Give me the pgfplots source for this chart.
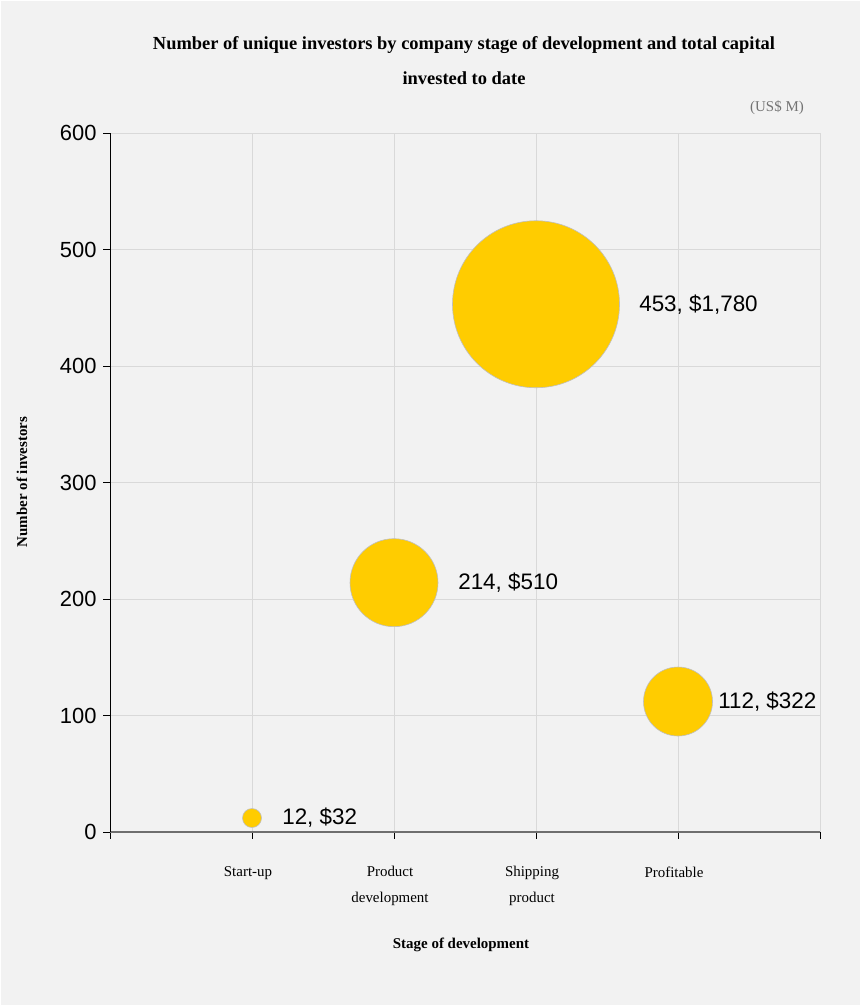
\documentclass[border=0pt]{standalone}
\usepackage{pgfplots}
\pgfplotsset{compat=1.18}
\usepackage{fontspec}
\setmainfont{Liberation Serif}
\newfontfamily\arial{Liberation Sans}
\definecolor{bg}{HTML}{F2F2F2}
\definecolor{bub}{HTML}{FFCC00}
\definecolor{gridc}{HTML}{D9D9D9}
\definecolor{xax}{HTML}{6F6F6F}

\pgfplotsset{
  bubble/.style n args={3}{only marks, mark=*, mark size=#1,
    mark options={fill=bub, draw=black!25, line width=0.6bp},
    nodes near coords={#3},
    every node near coord/.append style={anchor=west, xshift=#2, inner sep=0pt,
      font=\arial\fontsize{22.5}{26}\selectfont, text=black}},
}

\begin{document}
\begin{tikzpicture}[x=1bp,y=1bp]
\path[use as bounding box, fill=white] (0,0) rectangle (861,1006);
\fill[bg] (1.5,1.5) rectangle (859.5,1004.5);
\begin{axis}[
  at={(110bp,174bp)}, anchor=south west,
  scale only axis, width=710bp, height=699bp,
  xmin=0, xmax=5, ymin=0, ymax=600,
  axis x line=bottom, axis y line=left,
  axis line style={-},
  x axis line style={draw=xax, line width=1.8bp},
  y axis line style={draw=black, line width=0.8bp},
  xtick={0,1,2,3,4,5},
  xticklabels={,Start-up,Product\\development,Shipping\\product,Profitable,},
  ytick={0,100,200,300,400,500,600},
  tick align=outside,
  major tick length=7bp,
  tick style={draw=black, line width=0.8bp},
  xmajorgrids, ymajorgrids,
  grid style={draw=gridc, line width=0.6bp},
  /pgf/number format/assume math mode=true,
  yticklabel style={font=\arial\fontsize{22}{24}\selectfont, anchor=east, xshift=-3bp},
  xticklabel style={font=\fontsize{15}{26}\selectfont, align=center, anchor=north, yshift=-24bp, xshift=-4bp},
  clip=false,
]
% x = stage, y = number of investors; bubble radius scaled from capital (US$ M)
\addplot[bubble={9.5bp}{30bp}{12, \$32}] coordinates {(1,12)};
\addplot[bubble={44bp}{64bp}{214, \$510}] coordinates {(2,214)};
\addplot[bubble={83.5bp}{103bp}{453, \$1,780}] coordinates {(3,453)};
\addplot[bubble={34.5bp}{40bp}{112, \$322}] coordinates {(4,112)};
\end{axis}
\node[font=\bfseries\fontsize{18.5}{20}\selectfont] at (464,961) {Number of unique investors by company stage of development and total capital};
\node[font=\bfseries\fontsize{18.5}{20}\selectfont] at (464,928) {invested to date};
\node[font=\fontsize{15}{16}\selectfont, text=black!55] at (777,898) {(US\$ M)};
\node[font=\bfseries\fontsize{15}{15}\selectfont, rotate=90] at (22,524) {Number of investors};
\node[font=\bfseries\fontsize{15}{16}\selectfont] at (461,61) {Stage of development};
\end{tikzpicture}
\end{document}
